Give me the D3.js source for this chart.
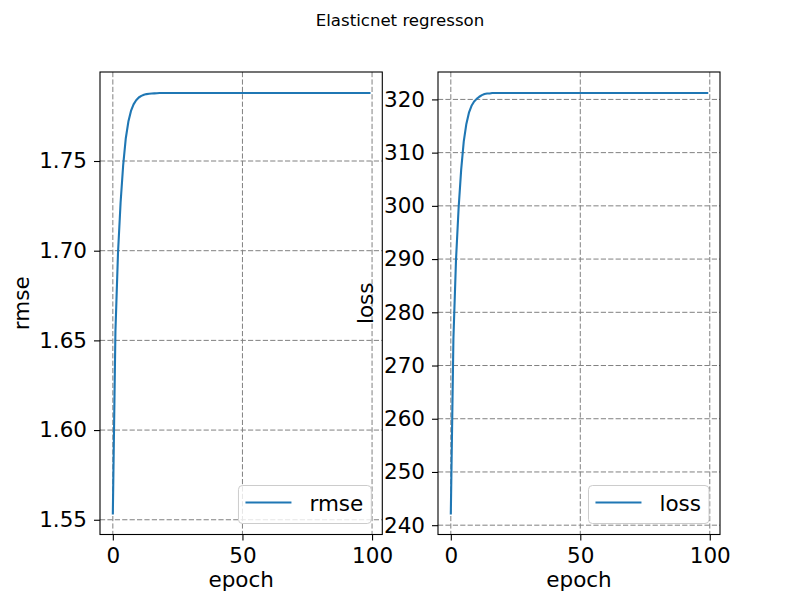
<!DOCTYPE html>
<html>
<head>
<meta charset="utf-8">
<script src="https://cdn.jsdelivr.net/npm/d3@7"></script>
<style>
  body { margin: 0; background: #fff; }
  text { font-family: "DejaVu Sans", sans-serif; }
</style>
</head>
<body>
<script>
// epochs 0..99
const epochs = d3.range(0, 100);

// rmse per epoch
const rmseValues = [
  1.5535, 1.6550, 1.6990, 1.7270, 1.7479, 1.7627, 1.7720, 1.7779, 1.7816, 1.7839,
  1.7854, 1.7863, 1.7869, 1.7873, 1.7875, 1.7876, 1.7877, 1.7878, 1.7879, 1.7879,
  1.7879, 1.7879, 1.7879, 1.7879, 1.7879, 1.7879, 1.7879, 1.7879, 1.7879, 1.7879,
  1.7879, 1.7879, 1.7879, 1.7879, 1.7879, 1.7879, 1.7879, 1.7879, 1.7879, 1.7879,
  1.7879, 1.7879, 1.7879, 1.7879, 1.7879, 1.7879, 1.7879, 1.7879, 1.7879, 1.7879,
  1.7879, 1.7879, 1.7879, 1.7879, 1.7879, 1.7879, 1.7879, 1.7879, 1.7879, 1.7879,
  1.7879, 1.7879, 1.7879, 1.7879, 1.7879, 1.7879, 1.7879, 1.7879, 1.7879, 1.7879,
  1.7879, 1.7879, 1.7879, 1.7879, 1.7879, 1.7879, 1.7879, 1.7879, 1.7879, 1.7879,
  1.7879, 1.7879, 1.7879, 1.7879, 1.7879, 1.7879, 1.7879, 1.7879, 1.7879, 1.7879,
  1.7879, 1.7879, 1.7879, 1.7879, 1.7879, 1.7879, 1.7879, 1.7879, 1.7879, 1.7879
];

// loss per epoch
const lossValues = [
  242.2, 275.0, 289.8, 299.5, 306.8, 312.1, 315.4, 317.5, 318.8, 319.6,
  320.1, 320.5, 320.8, 321.0, 321.1, 321.1, 321.2, 321.2, 321.2, 321.2,
  321.2, 321.2, 321.2, 321.2, 321.2, 321.2, 321.2, 321.2, 321.2, 321.2,
  321.2, 321.2, 321.2, 321.2, 321.2, 321.2, 321.2, 321.2, 321.2, 321.2,
  321.2, 321.2, 321.2, 321.2, 321.2, 321.2, 321.2, 321.2, 321.2, 321.2,
  321.2, 321.2, 321.2, 321.2, 321.2, 321.2, 321.2, 321.2, 321.2, 321.2,
  321.2, 321.2, 321.2, 321.2, 321.2, 321.2, 321.2, 321.2, 321.2, 321.2,
  321.2, 321.2, 321.2, 321.2, 321.2, 321.2, 321.2, 321.2, 321.2, 321.2,
  321.2, 321.2, 321.2, 321.2, 321.2, 321.2, 321.2, 321.2, 321.2, 321.2,
  321.2, 321.2, 321.2, 321.2, 321.2, 321.2, 321.2, 321.2, 321.2, 321.2
];

const xTicks = [0, 50, 100];
const rmseTicks = [1.55, 1.60, 1.65, 1.70, 1.75];
const lossTicks = [240, 250, 260, 270, 280, 290, 300, 310, 320];

const WIDTH = 800, HEIGHT = 600;
const TOP = 72, BOTTOM = 534.5;
const FS = 21.5;

const svg = d3.select("body").append("svg")
  .attr("width", WIDTH).attr("height", HEIGHT);
svg.append("rect").attr("width", WIDTH).attr("height", HEIGHT).attr("fill", "#fff");

svg.append("text")
  .attr("x", 400).attr("y", 25.5)
  .attr("text-anchor", "middle")
  .style("font-size", "16.6px")
  .text("Elasticnet regresson");

// matplotlib style 5% margins
function padded(ext) {
  const s = ext[1] - ext[0];
  return [ext[0] - 0.05 * s, ext[1] + 0.05 * s];
}

function panel(left, right, values, yTicks, fmt, name, labelX) {
  const x = d3.scaleLinear().domain(padded(d3.extent(epochs))).range([left, right]);
  const y = d3.scaleLinear().domain(padded(d3.extent(values))).range([BOTTOM, TOP]);
  const g = svg.append("g");

  // grid
  g.selectAll(".gx").data(xTicks).enter().append("line")
    .attr("x1", d => x(d)).attr("x2", d => x(d))
    .attr("y1", TOP).attr("y2", BOTTOM)
    .attr("stroke", "#808080").attr("stroke-width", 1).attr("stroke-dasharray", "5.2,2.2");
  g.selectAll(".gy").data(yTicks).enter().append("line")
    .attr("x1", left).attr("x2", right)
    .attr("y1", d => y(d)).attr("y2", d => y(d))
    .attr("stroke", "#808080").attr("stroke-width", 1).attr("stroke-dasharray", "5.2,2.2");

  // curve
  const line = d3.line().x((d, i) => x(epochs[i])).y(d => y(d));
  g.append("path").datum(values)
    .attr("d", line)
    .attr("fill", "none").attr("stroke", "#1f77b4").attr("stroke-width", 2.1)
    .attr("stroke-linejoin", "round").attr("stroke-linecap", "square");

  // axes
  const xa = g.append("g").attr("transform", `translate(0,${BOTTOM})`)
    .call(d3.axisBottom(x).tickValues(xTicks).tickSize(6).tickPadding(7.5).tickFormat(d3.format("d")));
  const ya = g.append("g").attr("transform", `translate(${left},0)`)
    .call(d3.axisLeft(y).tickValues(yTicks).tickSize(6).tickPadding(7).tickFormat(fmt));
  [xa, ya].forEach(a => {
    a.select(".domain").remove();
    a.selectAll("line").attr("stroke", "#000").attr("stroke-width", 1.1);
    a.selectAll("text").attr("fill", "#000").style("font-size", FS + "px").style("font-family", "DejaVu Sans");
  });

  // frame
  g.append("rect").attr("x", left).attr("y", TOP)
    .attr("width", right - left).attr("height", BOTTOM - TOP)
    .attr("fill", "none").attr("stroke", "#000").attr("stroke-width", 1.1);

  // labels
  g.append("text").attr("x", (left + right) / 2).attr("y", 587)
    .attr("text-anchor", "middle").style("font-size", FS + "px").text("epoch");
  g.append("text")
    .attr("transform", `translate(${labelX},${(TOP + BOTTOM) / 2}) rotate(-90)`)
    .attr("text-anchor", "middle").style("font-size", FS + "px").text(name);

  // legend, lower right
  const lg = g.append("g");
  const lr = right - 11, lb = BOTTOM - 11, lh = 38;
  const box = lg.append("rect");
  const lt = lg.append("text").style("font-size", FS + "px").text(name);
  const tw = lt.node().getComputedTextLength();
  const lw = 7 + 46 + 18 + tw + 8;
  const ll = lr - lw;
  box.attr("x", ll).attr("y", lb - lh).attr("width", lw).attr("height", lh)
    .attr("rx", 4).attr("fill", "#fff").attr("fill-opacity", 0.8)
    .attr("stroke", "#cccccc").attr("stroke-width", 1);
  lg.append("line").attr("x1", ll + 7).attr("x2", ll + 53)
    .attr("y1", lb - lh / 2 - 2).attr("y2", lb - lh / 2 - 2)
    .attr("stroke", "#1f77b4").attr("stroke-width", 2.1);
  lt.attr("x", ll + 71).attr("y", lb - lh / 2 + 6);
}

panel(100, 382.3, rmseValues, rmseTicks, d3.format(".2f"), "rmse", 28.5);
panel(438, 720, lossValues, lossTicks, d3.format("d"), "loss", 373);
</script>
</body>
</html>
